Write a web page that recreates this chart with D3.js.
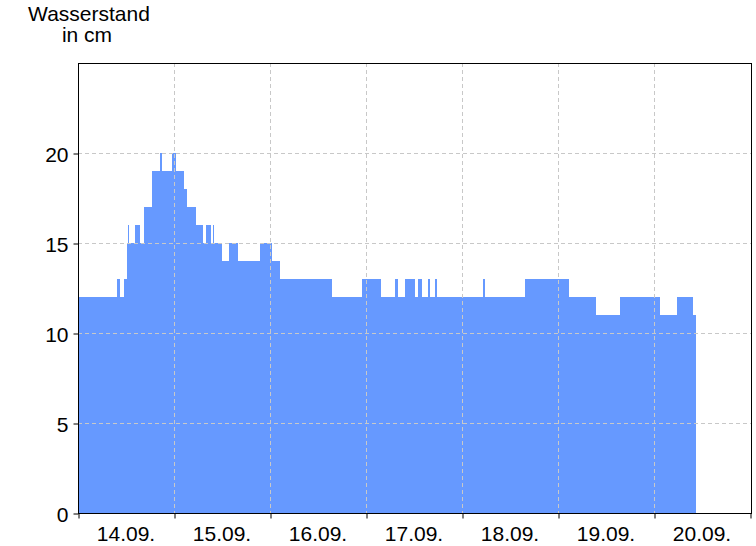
<!DOCTYPE html>
<html><head><meta charset="utf-8">
<script src="https://cdn.jsdelivr.net/npm/d3@7"></script>
<style>body{margin:0;background:#fff}svg{display:block;font-family:"Liberation Sans",Arial,sans-serif}</style>
</head><body>
<svg id="c" width="756" height="546"></svg>
<script>
// step change times (hours after 14.09. 00:00) and water level in cm from that time on
const changeHours = [0, 9.75, 10.5, 11.5, 12.25, 12.5, 12.75, 14.25, 15.5, 16.5, 18.5, 20.5, 21, 23.5, 24.5, 26.5, 27.25, 29.5, 31.25, 32, 33.25, 33.75, 34, 36, 37.75, 40, 45.5, 48.5, 50.5, 63.5, 71, 75.75, 79.25, 80, 81.75, 84.25, 85, 86, 87.5, 88, 89.25, 89.75, 101.25, 101.75, 111.75, 122.75, 129.5, 135.5, 145.5, 149.75, 153.75];
const levels =      [12, 13, 12, 13, 15, 16, 15, 16, 15, 17, 19, 20, 19, 20, 19, 18, 17, 16, 15, 16, 15, 16, 15, 14, 15, 14, 15, 14, 13, 12, 13, 12, 13, 12, 13, 12, 13, 12, 13, 12, 13, 12, 13, 12, 13, 12, 11, 12, 11, 12, 11];
const endHour = 154.5;
const dayLabels = ["14.09.", "15.09.", "16.09.", "17.09.", "18.09.", "19.09.", "20.09."];
const yTicks = [0, 5, 10, 15, 20];
const yMax = 25;
const dayCount = 7;

const m = {l: 78, t: 63, r: 751, b: 513};
const FS = 21;
const svg = d3.select("#c");
const x = d3.scaleLinear().domain([0, dayCount * 24]).range([m.l, m.l + 672]);
const y = d3.scaleLinear().domain([0, yMax]).range([m.b, m.t]);

const pts = changeHours.map((h, i) => ({h, v: levels[i]}));
pts.push({h: endHour, v: levels[levels.length - 1]});

// area
const area = d3.area().x(d => x(d.h)).y0(y(0)).y1(d => y(d.v)).curve(d3.curveStepAfter);
svg.append("path").datum(pts).attr("d", area).attr("fill", "#6699ff");

// grid
const g = svg.append("g");
g.selectAll("line.h").data(yTicks.filter(d => d > 0)).join("line").attr("class", "h")
  .attr("x1", m.l).attr("x2", m.r).attr("y1", d => y(d) + 0.5).attr("y2", d => y(d) + 0.5)
  .attr("stroke", "#c8c8c8").attr("stroke-dasharray", "4,3");
g.selectAll("line.v").data(d3.range(1, dayCount)).join("line").attr("class", "v")
  .attr("x1", d => x(d * 24) + 0.5).attr("x2", d => x(d * 24) + 0.5).attr("y1", m.t).attr("y2", m.b)
  .attr("stroke", "#c8c8c8").attr("stroke-dasharray", "4,3");

// frame
svg.append("rect").attr("x", m.l + 0.5).attr("y", m.t + 0.5).attr("width", m.r - m.l).attr("height", m.b - m.t)
  .attr("fill", "none").attr("stroke", "#000");

// y axis
const ya = svg.append("g").attr("transform", `translate(${m.l + 0.5},0.5)`)
  .call(d3.axisLeft(y).tickValues(yTicks).tickSize(5).tickPadding(5));
ya.select(".domain").remove();
ya.selectAll("text").attr("font-size", FS).attr("fill", "#000").attr("dy", "0.36em")
  .attr("font-family", "Liberation Sans, Arial, sans-serif");

// x axis: ticks at day boundaries, labels centred in days
const xa = svg.append("g").attr("transform", `translate(0.5,${m.b + 0.5})`)
  .call(d3.axisBottom(x).tickValues(d3.range(0, dayCount + 1).map(d => d * 24)).tickSize(5).tickFormat(""));
xa.select(".domain").remove();
svg.append("g").selectAll("text").data(dayLabels).join("text")
  .attr("x", (d, i) => x(i * 24 + 12)).attr("y", 541)
  .attr("text-anchor", "middle").attr("font-size", FS).attr("fill", "#000").text(d => d);

// title
svg.append("text").attr("x", 89).attr("y", 21).attr("text-anchor", "middle").attr("font-size", FS).text("Wasserstand");
svg.append("text").attr("x", 87).attr("y", 42).attr("text-anchor", "middle").attr("font-size", FS).text("in cm");
</script>
</body></html>
